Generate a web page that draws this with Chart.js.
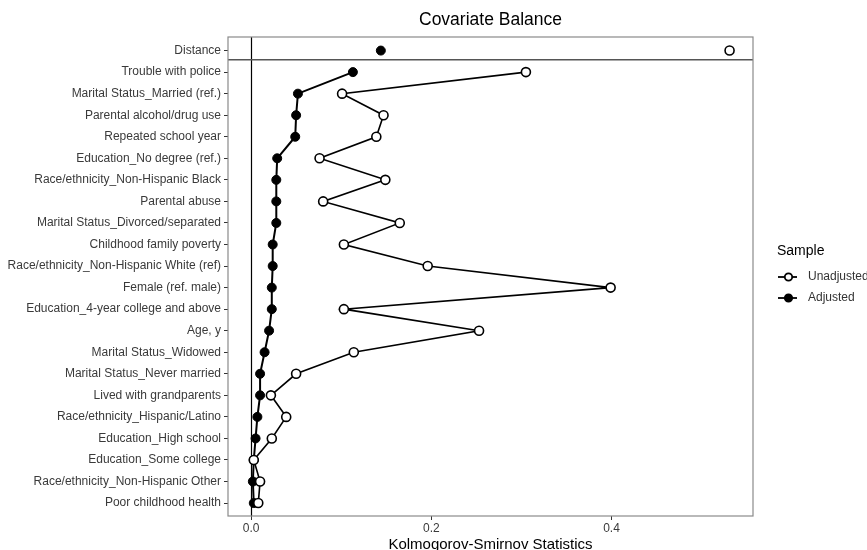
<!DOCTYPE html>
<html>
<head>
<meta charset="utf-8">
<script src="https://cdn.jsdelivr.net/npm/chart.js@4/dist/chart.umd.min.js"></script>
<style>
  html, body { margin: 0; padding: 0; background: #fff; }
  #wrap { width: 867px; height: 550px; }
</style>
</head>
<body>
<div id="wrap"><canvas id="balanceChart" width="867" height="550"></canvas></div>
<script>
// distance row sits on its own above the separator
const distanceLabel = "Distance";
const distanceUnadj = 0.531;
const distanceAdj = 0.144;

const covariates = [
	"Trouble with police",
	"Marital Status_Married (ref.)",
	"Parental alcohol/drug use",
	"Repeated school year",
	"Education_No degree (ref.)",
	"Race/ethnicity_Non-Hispanic Black",
	"Parental abuse",
	"Marital Status_Divorced/separated",
	"Childhood family poverty",
	"Race/ethnicity_Non-Hispanic White (ref)",
	"Female (ref. male)",
	"Education_4-year college and above",
	"Age, y",
	"Marital Status_Widowed",
	"Marital Status_Never married",
	"Lived with grandparents",
	"Race/ethnicity_Hispanic/Latino",
	"Education_High school",
	"Education_Some college",
	"Race/ethnicity_Non-Hispanic Other",
	"Poor childhood health"
];
const unadjusted = [0.305, 0.101, 0.147, 0.139, 0.076, 0.149, 0.080, 0.165, 0.103, 0.196, 0.399,
	0.103, 0.253, 0.114, 0.050, 0.022, 0.039, 0.023, 0.003, 0.010, 0.008];
const adjusted = [0.113, 0.052, 0.050, 0.049, 0.029, 0.028, 0.028, 0.028, 0.024, 0.024, 0.023,
	0.023, 0.020, 0.015, 0.010, 0.010, 0.007, 0.005, 0.003, 0.002, 0.003];

const xTicks = [0.0, 0.2, 0.4];
const rowLabels = [distanceLabel, ...covariates];

const FONT = "'Liberation Sans', Arial, Helvetica, sans-serif";

function rows(values) {
	// row 0 is Distance, covariates start at 1
	return values.map((v, i) => ({x: v, y: i + 1}));
}

const openPoint = {
	pointRadius: 4.5,
	pointBackgroundColor: '#fff',
	pointBorderColor: '#000',
	pointBorderWidth: 1.6
};
const filledPoint = {
	pointRadius: 4.5,
	pointBackgroundColor: '#000',
	pointBorderColor: '#000',
	pointBorderWidth: 1
};

const decor = {
	id: 'decor',
	beforeDatasetsDraw(chart) {
		const {ctx, chartArea: a, scales: {x, y}} = chart;
		ctx.save();
		// zero reference line
		ctx.strokeStyle = '#000';
		ctx.lineWidth = 1.2;
		ctx.beginPath();
		ctx.moveTo(Math.round(x.getPixelForValue(0)) + 0.5, a.top);
		ctx.lineTo(Math.round(x.getPixelForValue(0)) + 0.5, a.bottom);
		ctx.stroke();
		// separator under Distance
		ctx.strokeStyle = '#555';
		ctx.lineWidth = 1.5;
		const sy = y.getPixelForValue(0.43);
		ctx.beginPath();
		ctx.moveTo(a.left, sy);
		ctx.lineTo(a.right, sy);
		ctx.stroke();
		ctx.restore();
	},
	afterDraw(chart) {
		const {ctx, chartArea: a} = chart;
		ctx.save();
		// panel border
		ctx.strokeStyle = '#8a8a8a';
		ctx.lineWidth = 1.2;
		ctx.strokeRect(a.left, a.top, a.right - a.left, a.bottom - a.top);

		// title
		ctx.fillStyle = '#000';
		ctx.font = '17.5px ' + FONT;
		ctx.textAlign = 'center';
		ctx.textBaseline = 'middle';
		ctx.fillText('Covariate Balance', (a.left + a.right) / 2, 20.5);

		// legend
		ctx.textAlign = 'left';
		ctx.font = '14px ' + FONT;
		ctx.fillText('Sample', 777, 251);
		const items = [['Unadjusted', false, 277], ['Adjusted', true, 298]];
		ctx.font = '12px ' + FONT;
		items.forEach(([txt, filled, ly]) => {
			ctx.strokeStyle = '#000';
			ctx.lineWidth = 1.8;
			ctx.beginPath();
			ctx.moveTo(778, ly);
			ctx.lineTo(797, ly);
			ctx.stroke();
			ctx.beginPath();
			ctx.arc(788.5, ly, 3.7, 0, Math.PI * 2);
			ctx.fillStyle = filled ? '#000' : '#fff';
			ctx.fill();
			ctx.stroke();
			ctx.fillStyle = '#333';
			ctx.fillText(txt, 808, ly);
		});
		ctx.restore();
	}
};

const ctxBal = document.getElementById('balanceChart').getContext('2d');

new Chart(ctxBal, {
	type: 'scatter',
	data: {
		datasets: [{
			label: 'Unadjusted',
			data: rows(unadjusted),
			showLine: true,
			borderColor: '#000',
			borderWidth: 1.6,
			...openPoint
		}, {
			label: 'Adjusted',
			data: rows(adjusted),
			showLine: true,
			borderColor: '#000',
			borderWidth: 2,
			...filledPoint
		}, {
			label: 'Unadjusted distance',
			data: [{x: distanceUnadj, y: 0}],
			showLine: false,
			...openPoint
		}, {
			label: 'Adjusted distance',
			data: [{x: distanceAdj, y: 0}],
			showLine: false,
			...filledPoint
		}]
	},
	options: {
		responsive: false,
		animation: false,
		layout: {padding: {top: 37, right: 114, bottom: 0, left: 0}},
		plugins: {
			legend: {display: false},
			tooltip: {enabled: false},
			title: {display: false}
		},
		scales: {
			x: {
				type: 'linear',
				min: -0.0256,
				max: 0.557,
				afterBuildTicks: (s) => { s.ticks = xTicks.map(v => ({value: v})); },
				afterFit: (s) => { s.height = 34; },
				border: {display: false},
				grid: {drawOnChartArea: false, drawTicks: true, tickLength: 4, color: '#333'},
				ticks: {
					color: '#3a3a3a',
					font: {family: FONT, size: 12},
					padding: 1,
					callback: (v) => v.toFixed(1)
				},
				title: {
					display: true,
					text: 'Kolmogorov-Smirnov Statistics',
					color: '#000',
					font: {family: FONT, size: 15},
					padding: {top: 0, bottom: -4}
				}
			},
			y: {
				type: 'linear',
				reverse: true,
				min: -0.63,
				max: 21.6,
				afterBuildTicks: (s) => { s.ticks = rowLabels.map((_, i) => ({value: i})); },
				afterFit: (s) => { s.width = 228; },
				border: {display: false},
				grid: {drawOnChartArea: false, drawTicks: true, tickLength: 4, color: '#333'},
				ticks: {
					autoSkip: false,
					color: '#3a3a3a',
					font: {family: FONT, size: 12},
					padding: 3,
					callback: (v) => rowLabels[v]
				}
			}
		}
	},
	plugins: [decor]
});
</script>
</body>
</html>
